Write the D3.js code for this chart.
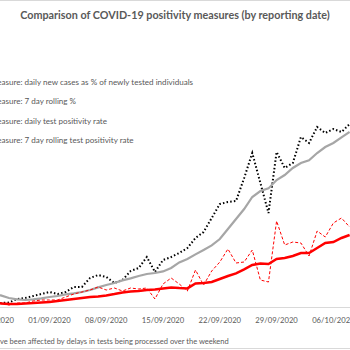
<!DOCTYPE html>
<html>
<head>
<meta charset="utf-8">
<script src="https://cdn.jsdelivr.net/npm/d3@7"></script>
<style>
  body { margin: 0; background: #ffffff; }
  #canvas { width: 350px; height: 350px; overflow: hidden; }
</style>
</head>
<body>
<div id="canvas"></div>
<script>
"use strict"

/* drawing size */
let svgWidth = 350;
let svgHeight = 350;

/* data: dates 25/08/2020 .. 08/10/2020 */
let startDate = new Date(2020, 7, 25);
let dates = d3.timeDay.range(startDate, new Date(2020, 9, 9));

/* daily new cases as % of newly tested individuals (black dotted) */
let dailyCasesPct = [0.20, 0.20, 0.22, 0.40, 0.45, 0.55, 0.65, 0.75, 0.65, 0.75,
    1.00, 1.00, 1.45, 1.60, 1.50, 1.20, 1.35, 1.80, 1.95, 2.50,
    1.75, 2.35, 2.50, 2.70, 2.95, 3.45, 3.75, 4.45, 5.15, 5.25,
    5.30, 6.45, 7.70, 6.20, 4.70, 7.75, 6.95, 7.20, 8.50, 8.20,
    9.00, 8.70, 8.90, 8.75, 9.15];

/* 7 day rolling % (grey) */
let rollingCasesPct = [0.65, 0.58, 0.45, 0.38, 0.35, 0.38, 0.43, 0.50, 0.55, 0.63,
    0.68, 0.75, 0.85, 0.98, 1.10, 1.20, 1.33, 1.43, 1.55, 1.65,
    1.70, 1.78, 1.95, 2.23, 2.40, 2.63, 2.85, 3.08, 3.40, 3.90,
    4.40, 4.90, 5.50, 5.80, 5.93, 6.35, 6.60, 6.95, 7.20, 7.33,
    7.70, 8.00, 8.20, 8.48, 8.75];

/* daily test positivity rate (red dashed) */
let dailyTestRate = [0.25, 0.20, 0.10, 0.20, 0.20, 0.30, 0.35, 0.35, 0.35, 0.50,
    0.65, 0.75, 0.85, 1.00, 0.85, 0.95, 0.80, 0.95, 0.90, 0.95,
    0.40, 1.15, 1.45, 1.15, 0.80, 1.85, 1.10, 1.80, 2.25, 2.90,
    2.20, 2.25, 2.85, 1.35, 1.25, 4.30, 3.10, 3.25, 3.20, 2.55,
    3.80, 3.50, 4.20, 4.45, 4.00];

/* 7 day rolling test positivity rate (red solid) */
let rollingTestRate = [0.20, 0.18, 0.15, 0.15, 0.18, 0.20, 0.23, 0.25, 0.30, 0.35,
    0.40, 0.45, 0.50, 0.53, 0.58, 0.65, 0.73, 0.78, 0.80, 0.85,
    0.88, 0.93, 0.98, 0.95, 0.93, 1.18, 1.20, 1.25, 1.40, 1.55,
    1.68, 1.88, 2.10, 2.18, 2.15, 2.40, 2.45, 2.55, 2.70, 2.70,
    2.95, 3.20, 3.25, 3.45, 3.60];

let legendLabels = [
    "Measure: daily new cases as % of newly tested individuals",
    "Measure: 7 day rolling %",
    "Measure: daily test positivity rate",
    "Measure: 7 day rolling test positivity rate"
];

let tickDates = d3.timeDay.range(startDate, new Date(2020, 9, 9), 7);

let titleText = "Comparison of COVID-19 positivity measures (by reporting date)";
let noteText = "have been affected by delays in tests being processed over the weekend";

/* colours and font */
let textColor = "#595959";
let fontName = "Lato, 'Open Sans', sans-serif";

let svg = d3.select("#canvas")
    .append("svg")
    .attr("width", svgWidth)
    .attr("height", svgHeight);

/* measure a string at a given size so text can be sized to the reference */
function textWidth(str, size, weight) {
    let t = svg.append("text")
        .attr("font-family", fontName)
        .attr("font-size", size)
        .attr("font-weight", weight || "normal")
        .text(str);
    let w = t.node().getComputedTextLength();
    t.remove();
    return w;
}

function sizeFor(str, targetWidth, weight) {
    return 10 * targetWidth / textWidth(str, 10, weight);
}

/* chart border (only top and bottom edges are visible in the crop) */
svg.append("line")
    .attr("x1", 0).attr("x2", svgWidth)
    .attr("y1", 0.5).attr("y2", 0.5)
    .attr("stroke", "#d9d9d9");

svg.append("line")
    .attr("x1", 0).attr("x2", svgWidth)
    .attr("y1", 348.5).attr("y2", 348.5)
    .attr("stroke", "#d9d9d9");

/* scales */
let xScale = d3.scaleTime()
    .domain([startDate, new Date(2020, 9, 8)])
    .range([-7.3, 349.6]);

let yScale = d3.scaleLinear()
    .domain([0, 10])
    .range([307, 107]);

/* x axis line */
svg.append("line")
    .attr("x1", 0)
    .attr("x2", svgWidth)
    .attr("y1", yScale(0) + 0.5)
    .attr("y2", yScale(0) + 0.5)
    .attr("stroke", "#d9d9d9");

/* x tick labels */
let formatDate = d3.timeFormat("%d/%m/%Y");
let tickSize = sizeFor("01/09/2020", 42.5);
svg.selectAll(".tick-label")
    .data(tickDates)
    .join("text")
    .attr("class", "tick-label")
    .attr("x", function (d) { return xScale(d); })
    .attr("y", 323)
    .attr("text-anchor", "middle")
    .attr("font-family", fontName)
    .attr("font-size", tickSize)
    .attr("fill", textColor)
    .text(function (d) { return formatDate(d); });

/* series lines */
let line = function (values) {
    return d3.line()
        .x(function (v, i) { return xScale(dates[i]); })
        .y(function (v) { return yScale(v); })(values);
};

svg.append("path")
    .attr("d", line(dailyCasesPct))
    .attr("fill", "none")
    .attr("stroke", "#000000")
    .attr("stroke-width", 2)
    .attr("stroke-dasharray", "1.5,2.2");

svg.append("path")
    .attr("d", line(rollingCasesPct))
    .attr("fill", "none")
    .attr("stroke", "#a6a6a6")
    .attr("stroke-width", 2.2);

svg.append("path")
    .attr("d", line(dailyTestRate))
    .attr("fill", "none")
    .attr("stroke", "#ff0000")
    .attr("stroke-width", 1)
    .attr("stroke-dasharray", "3,2");

svg.append("path")
    .attr("d", line(rollingTestRate))
    .attr("fill", "none")
    .attr("stroke", "#ff0000")
    .attr("stroke-width", 2.5);

/* title, spans about x 20..330 in the reference */
let titleSize = sizeFor(titleText, 310, "bold");
svg.append("text")
    .attr("x", 175)
    .attr("y", 19)
    .attr("text-anchor", "middle")
    .attr("font-family", fontName)
    .attr("font-weight", "bold")
    .attr("font-size", titleSize)
    .attr("fill", textColor)
    .text(titleText);

/* legend text (the legend swatches sit left of the visible area) */
let legendSize = sizeFor(legendLabels[0].slice(2), 192);
let legendShift = textWidth("Me", legendSize) - 1.5;
for (let i = 0; i < legendLabels.length; i++) {
    svg.append("text")
        .attr("x", -legendShift)
        .attr("y", 85 + i * 19.4)
        .attr("font-family", fontName)
        .attr("font-size", legendSize)
        .attr("fill", textColor)
        .text(legendLabels[i]);
}

/* footnote */
let noteSize = sizeFor(noteText.slice(2), 229);
svg.append("text")
    .attr("x", -textWidth("ha", noteSize))
    .attr("y", 344)
    .attr("font-family", fontName)
    .attr("font-size", noteSize)
    .attr("fill", textColor)
    .text(noteText);
</script>
</body>
</html>
